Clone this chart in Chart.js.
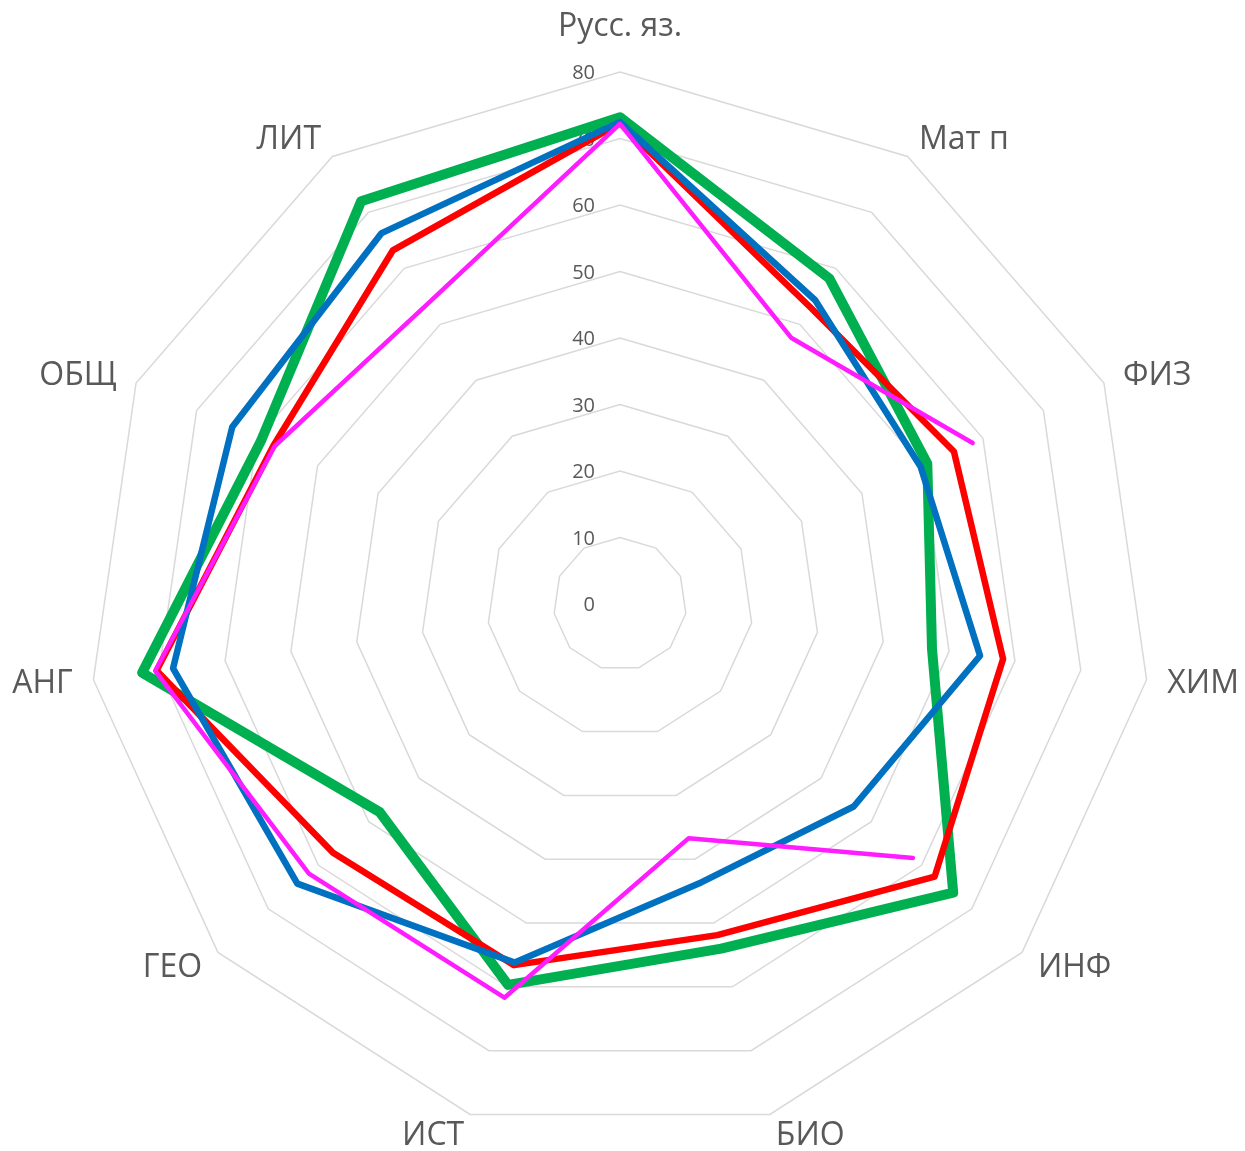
<!DOCTYPE html>
<html>
<head>
<meta charset="utf-8">
<script src="https://cdn.jsdelivr.net/npm/chart.js@4"></script>
<style>
  html, body { margin: 0; padding: 0; background: #ffffff; }
  #wrap { width: 1245px; height: 1151px; }
</style>
</head>
<body>
<div id="wrap"><canvas id="c" width="1245" height="1151"></canvas></div>
<script>
const categories = ['Русс. яз.', 'Мат п', 'ФИЗ', 'ХИМ', 'ИНФ', 'БИО', 'ИСТ', 'ГЕО', 'АНГ', 'ОБЩ', 'ЛИТ'];
const tickValues = [0, 10, 20, 30, 40, 50, 60, 70, 80];
const seriesGreen   = [73.2, 58.2, 50.8, 47.4, 66.3, 54.0, 59.7, 47.8, 72.6, 59.3, 72.0];
const seriesRed     = [72.3, 53.0, 55.2, 58.2, 62.6, 51.9, 56.6, 57.1, 70.4, 57.3, 63.2];
const seriesBlue    = [72.5, 54.3, 49.7, 54.7, 46.5, 43.6, 56.2, 64.2, 67.9, 64.1, 66.3];
const seriesMagenta = [72.2, 47.6, 58.3, null, 58.3, 36.7, 61.7, 61.9, 70.6, 57.1, 53.6];

const TEXT_COLOR = '#595959';
const FONT = '"Open Sans", "Noto Sans", sans-serif';

const labelPlugin = {
  id: 'excelLabels',
  beforeDatasetsDraw(chart) {
    const s = chart.scales.r;
    const ctx = chart.ctx;
    ctx.save();
    ctx.font = '20px ' + FONT;
    ctx.fillStyle = TEXT_COLOR;
    ctx.textAlign = 'right';
    ctx.textBaseline = 'alphabetic';
    tickValues.forEach(v => {
      const y = s.yCenter - s.getDistanceFromCenterForValue(v);
      ctx.fillText(String(v), s.xCenter - 25, y + 7.2);
    });
    ctx.restore();
  },
  afterDraw(chart) {
    const s = chart.scales.r;
    const ctx = chart.ctx;
    const R = s.drawingArea;
    ctx.save();
    ctx.font = '32px ' + FONT;
    ctx.fillStyle = TEXT_COLOR;
    ctx.textAlign = 'center';
    ctx.textBaseline = 'alphabetic';
    categories.forEach((lab, i) => {
      const p = s.getPointPosition(i, R);
      const sx = (p.x - s.xCenter) / R;
      const sy = (p.y - s.yCenter) / R;
      const w = ctx.measureText(lab).width;
      let cx, cy;
      if (Math.abs(sx) < 0.05) {
        cx = p.x;
        cy = p.y + sy * 47;
      } else {
        cx = p.x + sx * 21 + Math.sign(sx) * w / 2;
        cy = p.y + sy * 21 - 1;
      }
      ctx.fillText(lab, cx, cy + 11.4);
    });
    ctx.restore();
  }
};

const commonLine = {
  fill: false,
  pointRadius: 0,
  pointHoverRadius: 0,
  tension: 0,
  spanGaps: false,
  borderJoinStyle: 'round',
  borderCapStyle: 'round'
};

new Chart(document.getElementById('c'), {
  type: 'radar',
  data: {
    labels: categories,
    datasets: [
      Object.assign({ label: 'Ряд 4', data: seriesMagenta, borderColor: '#ff1dff', borderWidth: 4.5 }, commonLine),
      Object.assign({ label: 'Ряд 3', data: seriesBlue, borderColor: '#0070c0', borderWidth: 6.5 }, commonLine),
      Object.assign({ label: 'Ряд 2', data: seriesRed, borderColor: '#ff0000', borderWidth: 6.5 }, commonLine),
      Object.assign({ label: 'Ряд 1', data: seriesGreen, borderColor: '#00b050', borderWidth: 10 }, commonLine)
    ]
  },
  options: {
    responsive: false,
    animation: false,
    devicePixelRatio: 1,
    layout: { padding: { left: 88, right: 93, top: 72, bottom: 15 } },
    plugins: { legend: { display: false }, tooltip: { enabled: false } },
    scales: {
      r: {
        min: 0,
        max: 80,
        beginAtZero: true,
        ticks: { display: false, stepSize: 10 },
        pointLabels: { display: false },
        angleLines: { display: false },
        grid: { color: '#d9d9d9', lineWidth: 1.5, circular: false }
      }
    }
  },
  plugins: [labelPlugin]
});
</script>
</body>
</html>
